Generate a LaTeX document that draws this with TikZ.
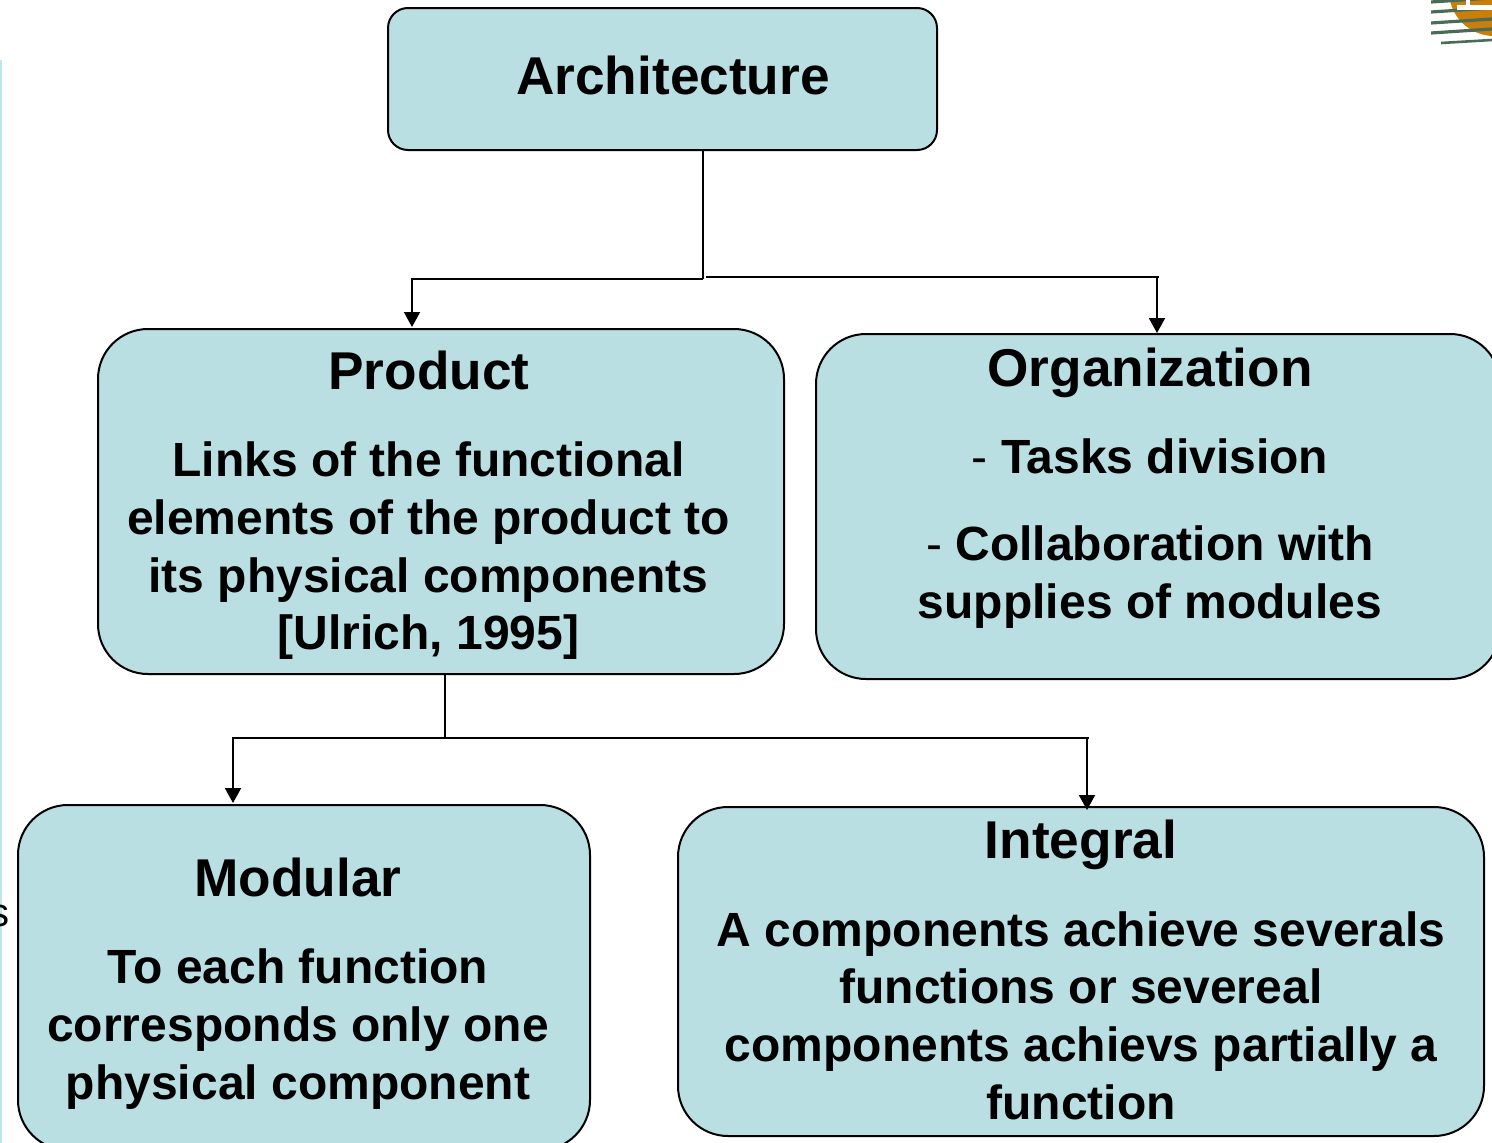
\documentclass[tikz,border=0pt]{standalone}
\usepackage{fontspec}
\setmainfont{Liberation Sans}
\usetikzlibrary{arrows.meta}
\newcommand{\headfont}{\fontsize{53.2}{58}\selectfont\bfseries}
\newcommand{\bodyfont}{\fontsize{48}{57.7}\selectfont\bfseries}
\definecolor{boxfill}{HTML}{B9DFE3}
\definecolor{edgeblue}{HTML}{BFE6EA}
\definecolor{logoorange}{HTML}{C97F0A}
\definecolor{logogreen}{HTML}{4A6B55}
\tikzset{
  x=1pt,y=-1pt,
  boxbase/.style={draw=black,line width=2pt,fill=boxfill,inner sep=0pt,anchor=north west},
  smallbox/.style={boxbase,rounded corners=20pt},
  bigbox/.style={boxbase,rounded corners=50pt},
  head/.style={font=\headfont,anchor=center,inner sep=0pt,text=black},
  body/.style={font=\bodyfont,anchor=center,align=center,inner sep=0pt,text=black},
  link/.style={draw=black,line width=2pt},
  arrowlink/.style={link,-{Triangle[length=15pt,width=16pt]}},
}
\begin{document}
\begin{tikzpicture}
\useasboundingbox (0,0) rectangle (1492,1143);
\clip (0,0) rectangle (1492,1143);
% page remnants
\fill[edgeblue] (0,60) rectangle (2,1143);
\node[font=\fontsize{40}{44}\selectfont,anchor=base,inner sep=0pt] (frag) at (0,926) {s};
% logo fragment
\begin{scope}
\clip (1431,0) rectangle (1492,44);
\fill[logoorange] (1494,-9) circle (45);
\foreach \yy in {2,12,23,33} {\draw[logogreen,line width=3.2pt] (1431,\yy) -- (1492,\yy-4);}
\draw[logogreen,line width=2.6pt] (1441,43) -- (1492,40);
\fill[white] (1457,5) rectangle (1492,10);
\fill[white] (1466,0) rectangle (1470,5);
\end{scope}
% boxes
\node[smallbox,minimum width=549pt,minimum height=142pt] (arch) at (387,7) {};
\node[bigbox,minimum width=686pt,minimum height=345pt] (prod) at (97,328) {};
\node[bigbox,minimum width=684pt,minimum height=345pt] (org) at (815,333) {};
\node[bigbox,minimum width=572pt,minimum height=345pt] (mod) at (17,804) {};
\node[bigbox,minimum width=806pt,minimum height=329pt] (integ) at (677,806) {};
% texts
\node[head] (archt) at (673,75.5) {Architecture};
\node[head] (prodt) at (429,370) {Product};
\node[body] (prodb) at (428.5,551) {Links of the functional\\elements of the product to\\its physical components\\{}[Ulrich, 1995]};
\node[head] (orgt) at (1150,373) {Organization};
\node[body] (orgb1) at (1150,456) {\textmd{-} Tasks division};
\node[body] (orgb2) at (1150,577) {\textmd{-} Collaboration with\\supplies of modules};
\node[head] (modt) at (298,877) {Modular};
\node[body] (modb) at (298,1029) {To each function\\corresponds only one\\physical component};
\node[head] (integt) at (1081,845) {Integral};
\node[body] (integb) at (1081,1015.5) {A components achieve severals\\functions or severeal\\components achievs partially a\\function};
% junctions
\coordinate (ja) at (703,279);
\coordinate (jb) at (706,277);
\coordinate (jc) at (1159,277);
\coordinate (jd) at (444.5,738);
\coordinate (je) at (1089,738);
% connectors
\draw[link] (arch.south -| ja) -- (ja);
\draw[arrowlink] (ja) -| (412,327);
\draw[link] (jb) -- (jc);
\draw[arrowlink] (1157,277) -- (org.north -| 1157,0);
\draw[link] (prod.south -| jd) -- (jd);
\draw[arrowlink] (jd) -| (233,803);
\draw[link] (jd) -- (je);
\draw[arrowlink] (1087,738) -- ([yshift=-4pt]integ.north -| 1087,0);
\end{tikzpicture}
\end{document}
